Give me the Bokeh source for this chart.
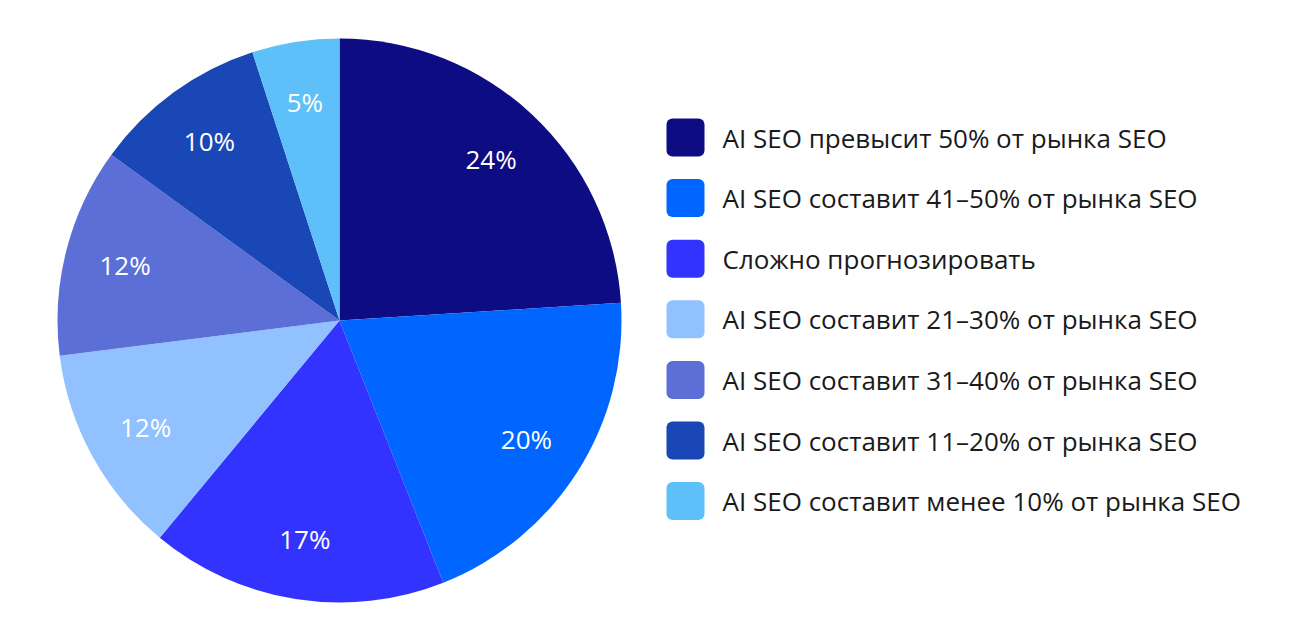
import math
from bokeh.plotting import figure
from bokeh.models import Range1d
from bokeh.core.properties import value
from bokeh.embed import file_html
from bokeh.resources import INLINE

labels = [
    "AI SEO превысит 50% от рынка SEO",
    "AI SEO составит 41–50% от рынка SEO",
    "Сложно прогнозировать",
    "AI SEO составит 21–30% от рынка SEO",
    "AI SEO составит 31–40% от рынка SEO",
    "AI SEO составит 11–20% от рынка SEO",
    "AI SEO составит менее 10% от рынка SEO",
]
shares = [24, 20, 17, 12, 12, 10, 5]
colors = ["#0d0c83", "#0066ff", "#3333ff", "#91c1fe", "#5b6fd7", "#1a47b6", "#5ec0f8"]

W, H = 1284, 624
p = figure(width=W, height=H, output_backend="svg", toolbar_location=None,
           x_range=Range1d(0, W), y_range=Range1d(0, H), min_border=0)
p.axis.visible = False
p.grid.visible = False
p.outline_line_color = None

cx, cy, R = 339, 304, 282
total = sum(shares)

# angles: start at top, go clockwise
starts, ends, mids = [], [], []
acc = 0
for s in shares:
    a0 = math.pi / 2 - 2 * math.pi * acc / total
    acc += s
    a1 = math.pi / 2 - 2 * math.pi * acc / total
    starts.append(a0)
    ends.append(a1)
    mids.append((a0 + a1) / 2)

p.wedge(x=[cx] * len(shares), y=[cy] * len(shares), radius=R,
        start_angle=starts, end_angle=ends, direction="clock",
        fill_color=colors, line_color=None)

lx = [cx + 0.785 * R * math.cos(m) for m in mids]
ly = [cy + 0.785 * R * math.sin(m) for m in mids]
p.text(x=lx, y=ly, text=[f"{s}%" for s in shares], text_color="white",
       text_font=value("Open Sans"), text_font_size="26px",
       text_align="center", text_baseline="middle")

# legend
rows_y = [487 - i * 60.6 for i in range(len(labels))]
p.quad(left=[666] * len(labels), right=[704] * len(labels),
       bottom=[y - 19 for y in rows_y], top=[y + 19 for y in rows_y],
       fill_color=colors, line_color=None, border_radius=6)
p.text(x=[722] * len(labels), y=rows_y, text=labels, text_color="#1a1a1a",
       text_font=value("Open Sans"), text_font_size="26px",
       text_align="left", text_baseline="middle")

open("out.html", "w").write(file_html(p, INLINE))
